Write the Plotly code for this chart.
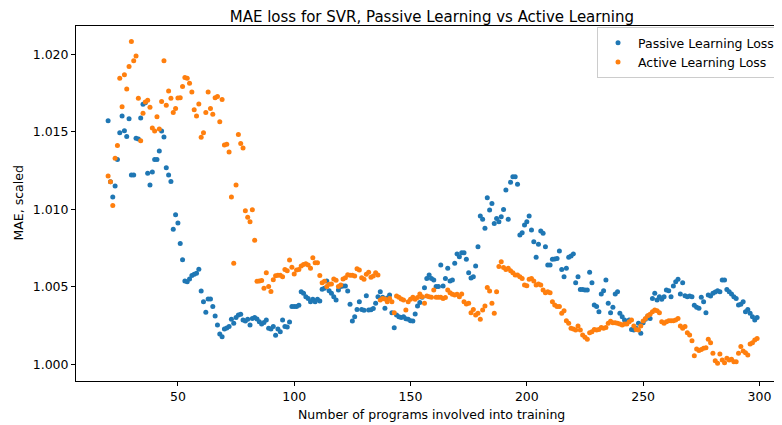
import plotly.graph_objects as go

programs = list(range(20, 300))

passive_loss = [
    1.01571, 1.01178, 1.01079, 1.01150, 1.01322, 1.01494, 1.01602, 1.01507, 1.01470, 1.01584,
    1.01221, 1.01221, 1.01458, 1.01453, 1.01589, 1.01677, 1.01688, 1.01232, 1.01156, 1.01240,
    1.01322, 1.01322, 1.01376, 1.01505, 1.01466, 1.01268, 1.01221, 1.01180, 1.00871, 1.00965,
    1.00911, 1.00780, 1.00675, 1.00537, 1.00533, 1.00550, 1.00572, 1.00580, 1.00587, 1.00613,
    1.00473, 1.00404, 1.00335, 1.00421, 1.00421, 1.00372, 1.00312, 1.00253, 1.00196, 1.00178,
    1.00228, 1.00234, 1.00243, 1.00290, 1.00264, 1.00301, 1.00318, 1.00322, 1.00286, 1.00279,
    1.00290, 1.00253, 1.00296, 1.00301, 1.00292, 1.00275, 1.00260, 1.00269, 1.00286, 1.00232,
    1.00228, 1.00243, 1.00187, 1.00228, 1.00210, 1.00286, 1.00243, 1.00241, 1.00273, 1.00372,
    1.00372, 1.00372, 1.00380, 1.00468, 1.00458, 1.00436, 1.00425, 1.00404, 1.00419, 1.00404,
    1.00419, 1.00408, 1.00484, 1.00490, 1.00537, 1.00475, 1.00458, 1.00436, 1.00415, 1.00479,
    1.00501, 1.00505, 1.00505, 1.00473, 1.00387, 1.00279, 1.00307, 1.00354, 1.00404, 1.00354,
    1.00348, 1.00442, 1.00350, 1.00352, 1.00359, 1.00393, 1.00436, 1.00468, 1.00432, 1.00361,
    1.00428, 1.00447, 1.00333, 1.00236, 1.00318, 1.00307, 1.00301, 1.00307, 1.00294, 1.00290,
    1.00281, 1.00279, 1.00325, 1.00376, 1.00398, 1.00432, 1.00494, 1.00554, 1.00576, 1.00554,
    1.00544, 1.00501, 1.00501, 1.00640, 1.00505, 1.00554, 1.00619, 1.00537, 1.00544, 1.00651,
    1.00712, 1.00694, 1.00720, 1.00720, 1.00677, 1.00591, 1.00557, 1.00565, 1.00634, 1.00759,
    1.00957, 1.00935, 1.00877, 1.01075, 1.00995, 1.01038, 1.00909, 1.00941, 1.00920, 1.00952,
    1.00999, 1.01124, 1.00935, 1.01174, 1.01210, 1.01210, 1.01161, 1.00834, 1.00849, 1.00898,
    1.00920, 1.00957, 1.00866, 1.00791, 1.00690, 1.00774, 1.00860, 1.00845, 1.00759, 1.00640,
    1.00640, 1.00677, 1.00679, 1.00683, 1.00731, 1.00612, 1.00565, 1.00619, 1.00690, 1.00699,
    1.00712, 1.00526, 1.00565, 1.00483, 1.00483, 1.00479, 1.00479, 1.00593, 1.00526, 1.00383,
    1.00372, 1.00339, 1.00453, 1.00475, 1.00544, 1.00393, 1.00333, 1.00368, 1.00453, 1.00468,
    1.00329, 1.00307, 1.00286, 1.00275, 1.00286, 1.00225, 1.00221, 1.00232, 1.00264, 1.00200,
    1.00268, 1.00290, 1.00311, 1.00296, 1.00425, 1.00458, 1.00415, 1.00436, 1.00419, 1.00436,
    1.00479, 1.00475, 1.00436, 1.00505, 1.00533, 1.00548, 1.00453, 1.00526, 1.00442, 1.00436,
    1.00441, 1.00436, 1.00381, 1.00368, 1.00361, 1.00432, 1.00404, 1.00333, 1.00447, 1.00441,
    1.00458, 1.00466, 1.00475, 1.00468, 1.00544, 1.00544, 1.00483, 1.00468, 1.00453, 1.00436,
    1.00425, 1.00383, 1.00387, 1.00404, 1.00339, 1.00354, 1.00329, 1.00307, 1.00286, 1.00301,
]

active_loss = [
    1.01215, 1.01178, 1.01025, 1.01329, 1.01412, 1.01845, 1.01662, 1.01868, 1.01776, 1.01922,
    1.02083, 1.01958, 1.01989, 1.01716, 1.01442, 1.01619, 1.01692, 1.01703, 1.01658, 1.01524,
    1.01505, 1.01597, 1.01518, 1.01696, 1.01958, 1.01672, 1.01763, 1.01716, 1.01625, 1.01651,
    1.01718, 1.01720, 1.01793, 1.01851, 1.01845, 1.01814, 1.01756, 1.01642, 1.01602, 1.01679,
    1.01464, 1.01494, 1.01625, 1.01756, 1.01651, 1.01613, 1.01720, 1.01728, 1.01565, 1.01709,
    1.01414, 1.01419, 1.01369, 1.01079, 1.00651, 1.01156, 1.01483, 1.01425, 1.01395, 1.00991,
    1.00948, 1.00920, 1.00997, 1.00800, 1.00535, 1.00538, 1.00540, 1.00490, 1.00591, 1.00501,
    1.00469, 1.00546, 1.00571, 1.00575, 1.00575, 1.00564, 1.00612, 1.00604, 1.00673, 1.00626,
    1.00582, 1.00608, 1.00612, 1.00634, 1.00643, 1.00649, 1.00641, 1.00619, 1.00688, 1.00655,
    1.00655, 1.00572, 1.00526, 1.00535, 1.00501, 1.00516, 1.00518, 1.00550, 1.00542, 1.00501,
    1.00511, 1.00550, 1.00559, 1.00578, 1.00574, 1.00574, 1.00569, 1.00617, 1.00608, 1.00559,
    1.00548, 1.00580, 1.00593, 1.00561, 1.00569, 1.00591, 1.00576, 1.00415, 1.00425, 1.00421,
    1.00404, 1.00425, 1.00404, 1.00333, 1.00441, 1.00432, 1.00421, 1.00415, 1.00350, 1.00404,
    1.00419, 1.00432, 1.00419, 1.00430, 1.00453, 1.00436, 1.00393, 1.00441, 1.00436, 1.00432,
    1.00479, 1.00432, 1.00432, 1.00432, 1.00425, 1.00430, 1.00479, 1.00462, 1.00451, 1.00447,
    1.00451, 1.00436, 1.00453, 1.00404, 1.00389, 1.00393, 1.00333, 1.00354, 1.00318, 1.00329,
    1.00290, 1.00350, 1.00376, 1.00496, 1.00473, 1.00393, 1.00329, 1.00468, 1.00630, 1.00662,
    1.00625, 1.00612, 1.00619, 1.00604, 1.00591, 1.00576, 1.00576, 1.00565, 1.00554, 1.00511,
    1.00507, 1.00548, 1.00554, 1.00537, 1.00511, 1.00518, 1.00511, 1.00479, 1.00462, 1.00468,
    1.00462, 1.00404, 1.00383, 1.00372, 1.00372, 1.00329, 1.00346, 1.00281, 1.00264, 1.00232,
    1.00228, 1.00221, 1.00247, 1.00221, 1.00189, 1.00174, 1.00161, 1.00204, 1.00210, 1.00225,
    1.00221, 1.00225, 1.00238, 1.00232, 1.00238, 1.00264, 1.00277, 1.00268, 1.00268, 1.00264,
    1.00260, 1.00253, 1.00260, 1.00260, 1.00275, 1.00286, 1.00247, 1.00225, 1.00221, 1.00247,
    1.00279, 1.00296, 1.00313, 1.00322, 1.00339, 1.00350, 1.00346, 1.00333, 1.00275, 1.00264,
    1.00275, 1.00281, 1.00281, 1.00281, 1.00286, 1.00296, 1.00247, 1.00232, 1.00243, 1.00204,
    1.00189, 1.00152, 1.00055, 1.00099, 1.00088, 1.00096, 1.00103, 1.00107, 1.00161, 1.00139,
    1.00071, 1.00023, 1.00006, 1.00066, 1.00028, 1.00010, 1.00038, 1.00028, 1.00032, 1.00017,
    1.00017, 1.00071, 1.00114, 1.00086, 1.00075, 1.00060, 1.00131, 1.00139, 1.00157, 1.00167,
]

x_ticks = [50, 100, 150, 200, 250, 300]
y_ticks = [1.000, 1.005, 1.010, 1.015, 1.020]

FONT = "DejaVu Sans"

fig = go.Figure()
fig.add_trace(go.Scatter(
    x=programs, y=passive_loss, mode="markers", name="Passive Learning Loss",
    marker=dict(color="#1f77b4", size=5),
))
fig.add_trace(go.Scatter(
    x=programs, y=active_loss, mode="markers", name="Active Learning Loss",
    marker=dict(color="#ff7f0e", size=5),
))

# The page body adds an 8px offset, so the figure is sized to fit the 782x425 window.
fig.update_layout(
    width=774, height=417,
    margin=dict(l=68, r=0, t=18, b=44, autoexpand=False),
    paper_bgcolor="white", plot_bgcolor="white",
    font=dict(family=FONT, size=12.5, color="#000000"),
    title=dict(
        text="MAE loss for SVR, Passive Learning vs Active Learning",
        font=dict(family=FONT, size=15, color="#000000"),
        x=0.504, xref="paper", xanchor="center",
        y=0.979, yref="container", yanchor="middle",
    ),
    showlegend=True,
    legend=dict(
        x=0.738, xanchor="left", y=0.997, yanchor="top",
        bgcolor="rgba(255,255,255,0.8)", bordercolor="#cccccc", borderwidth=1,
        font=dict(family=FONT, size=12.5, color="#000000"),
        itemsizing="trace", tracegroupgap=0,
    ),
    xaxis=dict(
        range=[6.19, 309.7], tickvals=x_ticks, ticktext=[str(v) for v in x_ticks],
        showgrid=False, zeroline=False, automargin=False,
        showline=True, linecolor="black", linewidth=1, mirror=True,
        ticks="outside", ticklen=4, tickwidth=1, tickcolor="black",
    ),
    yaxis=dict(
        range=[0.99892, 1.021826], tickvals=y_ticks,
        ticktext=["%.3f" % v for v in y_ticks],
        showgrid=False, zeroline=False, automargin=False,
        showline=True, linecolor="black", linewidth=1, mirror=False,
        ticks="outside", ticklen=4, tickwidth=1, tickcolor="black",
    ),
    annotations=[
        dict(text="Number of programs involved into training", xref="paper", yref="paper",
             x=0.504, y=0, xanchor="center", yanchor="middle", yshift=-33,
             showarrow=False, font=dict(family=FONT, size=12.5, color="#000000")),
        dict(text="MAE, scaled", xref="paper", yref="paper",
             x=0, y=0.5, xanchor="center", yanchor="middle", xshift=-58, textangle=-90,
             showarrow=False, font=dict(family=FONT, size=12.5, color="#000000")),
    ],
)

fig.write_html("out.html")
